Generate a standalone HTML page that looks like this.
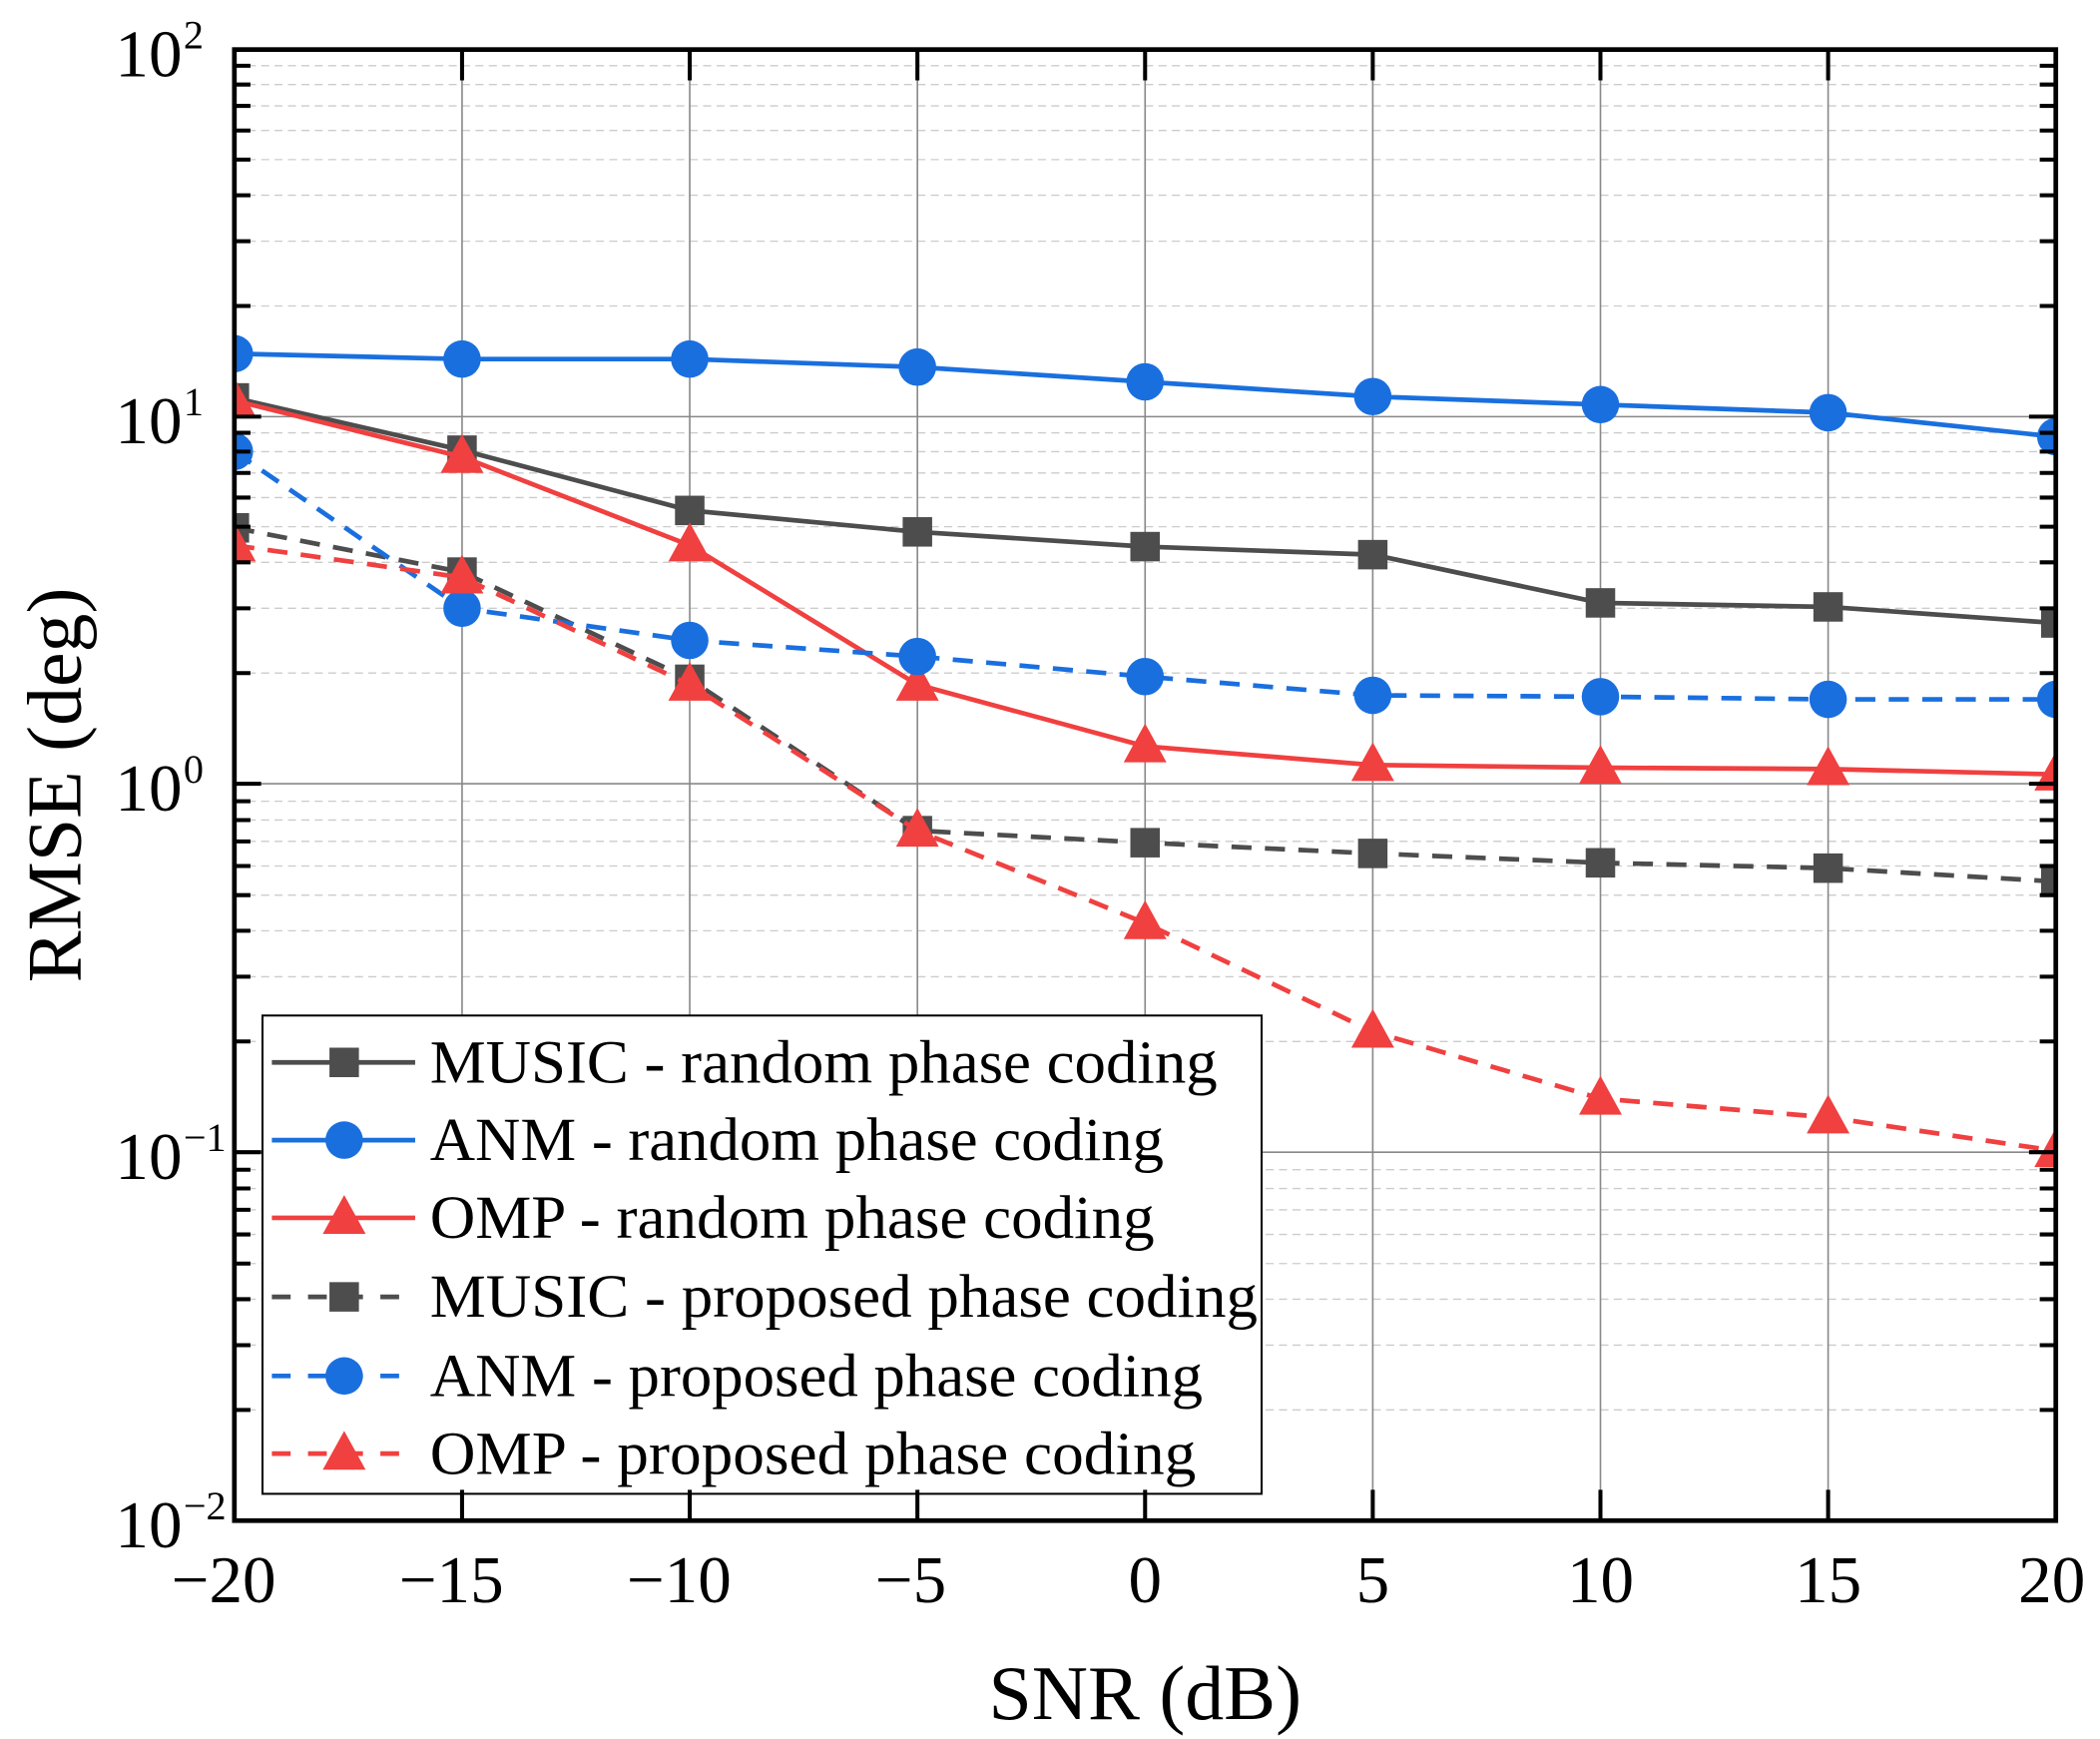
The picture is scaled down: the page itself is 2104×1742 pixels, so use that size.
<!DOCTYPE html>
<html><head><meta charset="utf-8"><style>html,body{margin:0;padding:0;background:#fff}svg{display:block}</style></head>
<body>
<svg width="2104" height="1742" viewBox="0 0 1568 1298" preserveAspectRatio="none" xmlns="http://www.w3.org/2000/svg" font-family="Liberation Serif, serif">
<defs><clipPath id="c"><rect x="175" y="37" width="1360" height="1098"/></clipPath></defs>
<rect width="1568" height="1298" fill="#fff"/>
<g id="grid"></g>
<g id="series" clip-path="url(#c)"></g>
<rect x="196" y="758" width="746" height="357" fill="#fff" stroke="#000" stroke-width="1.5"/>
<g id="legend"></g>
<rect x="175" y="37" width="1360" height="1098" fill="none" stroke="#000" stroke-width="3.5"/>
<g id="ticks"></g>
<g font-size="50" text-anchor="middle" fill="#000">
<text x="167" y="1196">−20</text><text x="337" y="1196">−15</text><text x="507" y="1196">−10</text><text x="680" y="1196">−5</text><text x="855" y="1196">0</text><text x="1025" y="1196">5</text><text x="1195" y="1196">10</text><text x="1365" y="1196">15</text><text x="1532" y="1196">20</text>
</g>
<g font-size="50" fill="#000" text-anchor="end">
<text x="136" y="57">10</text><text x="136" y="331">10</text><text x="136" y="605">10</text><text x="136" y="880">10</text><text x="136" y="1155">10</text>
</g>
<g font-size="30" fill="#000">
<text x="137" y="36">2</text><text x="137" y="310">1</text><text x="137" y="584">0</text><text x="137" y="859">−1</text><text x="137" y="1134">−2</text>
</g>
<text x="855" y="1283" font-size="58" text-anchor="middle">SNR (dB)</text>
<text transform="translate(60,586) rotate(-90)" font-size="58" text-anchor="middle">RMSE (deg)</text>
<script>
var NS="http://www.w3.org/2000/svg";
function el(p,t,a){var e=document.createElementNS(NS,t);for(var k in a)e.setAttribute(k,a[k]);p.appendChild(e);return e;}
var g=document.getElementById('grid'),tk=document.getElementById('ticks');
var dec=[37,311,585,860,1135],D=274.5;
for(var d=0;d<4;d++){for(var m=2;m<=9;m++){var y=dec[d+1]-D*Math.log10(m);
el(g,'line',{x1:175,x2:1535,y1:y,y2:y,stroke:'#ccc','stroke-width':1,'stroke-dasharray':'6,4'});
el(tk,'line',{x1:175,x2:187,y1:y,y2:y,stroke:'#000','stroke-width':3});
el(tk,'line',{x1:1523,x2:1535,y1:y,y2:y,stroke:'#000','stroke-width':3});}}
dec.forEach(function(y){el(g,'line',{x1:175,x2:1535,y1:y,y2:y,stroke:'#888','stroke-width':1.2});
el(tk,'line',{x1:175,x2:195,y1:y,y2:y,stroke:'#000','stroke-width':3});el(tk,'line',{x1:1515,x2:1535,y1:y,y2:y,stroke:'#000','stroke-width':3});});
var xs=[175,345,515,685,855,1025,1195,1365,1535];
xs.forEach(function(x){el(g,'line',{x1:x,x2:x,y1:37,y2:1135,stroke:'#888','stroke-width':1.2});
el(tk,'line',{x1:x,x2:x,y1:1135,y2:1112,stroke:'#000','stroke-width':3});el(tk,'line',{x1:x,x2:x,y1:37,y2:60,stroke:'#000','stroke-width':3});});
var GR='#4d4d4d',BL='#1a6fdf',RD='#f04040';
var S=[[GR,0,[297,336,381,397,408,414,450,453,465]],
[BL,1,[264,268,268,274,285,296,302,308,326]],
[RD,2,[299,341,407,511,557,571,573,574,578]],
[GR,0,[394,427,507,620,629,637,644,648,658],1],
[BL,1,[337,454,478,490,505,519,520,522,522],1],
[RD,2,[407,431,511,620,689,770,820,834,859],1]];
function mk(p,t,x,y,c){if(t==0)el(p,'rect',{x:x-11,y:y-11,width:22,height:22,fill:c});
else if(t==1)el(p,'circle',{cx:x,cy:y,r:14,fill:c});
else el(p,'polygon',{points:(x)+','+(y-17)+' '+(x-16)+','+(y+12)+' '+(x+16)+','+(y+12),fill:c});}
var sg=document.getElementById('series'),lg=document.getElementById('legend');
var names=['MUSIC - random phase coding','ANM - random phase coding','OMP - random phase coding','MUSIC - proposed phase coding','ANM - proposed phase coding','OMP - proposed phase coding'];
S.forEach(function(s,i){var pts=s[2].map(function(y,j){return xs[j]+','+y}).join(' ');
var a={points:pts,fill:'none',stroke:s[0],'stroke-width':3.5};if(s[3])a['stroke-dasharray']='15,10';el(sg,'polyline',a);
s[2].forEach(function(y,j){mk(sg,s[1],xs[j],y,s[0]);});
var ly=[793,851,909,968,1027,1085][i];var b={x1:203,x2:310,y1:ly,y2:ly,stroke:s[0],'stroke-width':3.5};if(s[3])b['stroke-dasharray']='14,13';
el(lg,'line',b);mk(lg,s[1],257,ly,s[0]);
var t=el(lg,'text',{x:321,y:ly+15,'font-size':46,fill:'#000',textLength:(i==3?618:i==0?588:i==4?577:i==5?572:i==1?548:541),lengthAdjust:'spacingAndGlyphs'});t.textContent=names[i];});
</script>
</svg>
</body></html>
